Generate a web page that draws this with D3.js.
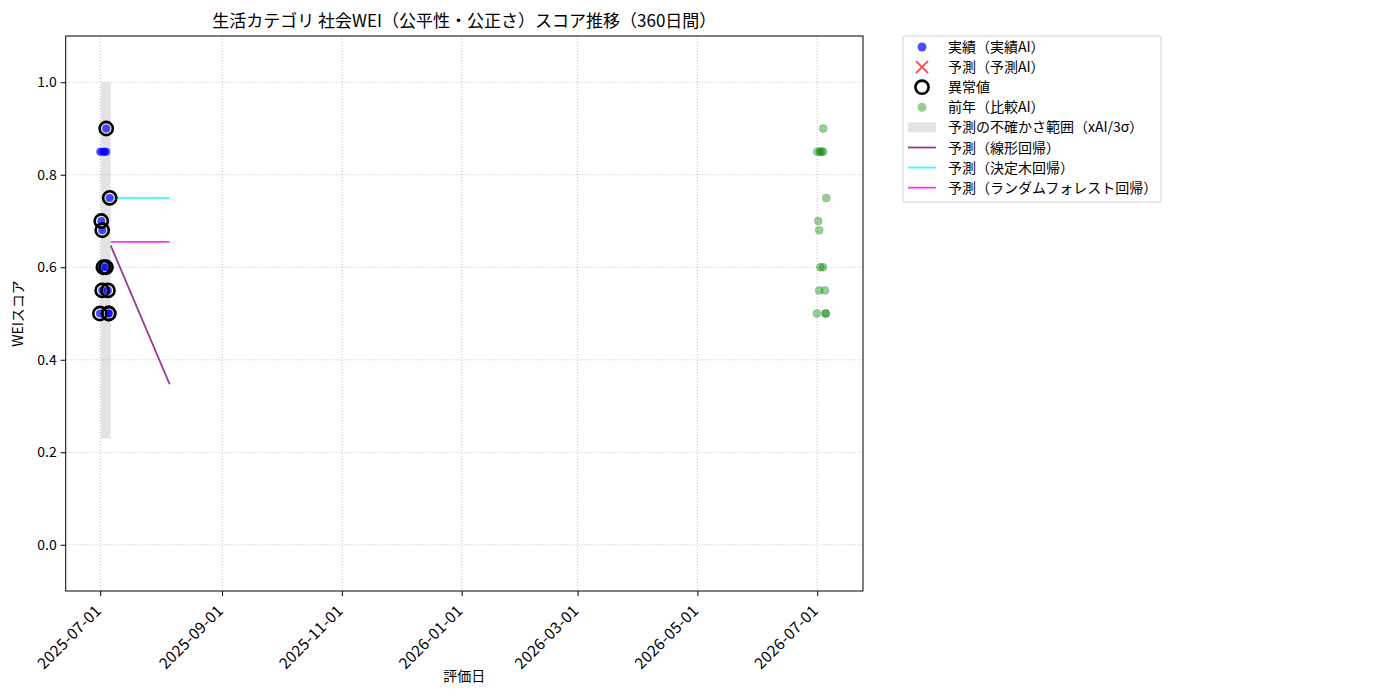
<!DOCTYPE html>
<html>
<head>
<meta charset="utf-8">
<script src="https://cdn.jsdelivr.net/npm/d3@7"></script>
<style>
  body { margin: 0; background: #fff; }
  svg text { font-family: "Noto Sans CJK JP", "DejaVu Sans", sans-serif; fill: #000; }
</style>
</head>
<body>
<div id="chart"></div>
<script>
// data
var actualDates = ["2025-06-30T20:00", "2025-07-01T00:00", "2025-07-01T12:00", "2025-07-02T00:00",
    "2025-07-02T00:00", "2025-07-02T08:00", "2025-07-02T14:00", "2025-07-03T02:00",
    "2025-07-03T22:00", "2025-07-04T01:00", "2025-07-04T00:00", "2025-07-04T22:00",
    "2025-07-05T07:00", "2025-07-05T07:00", "2025-07-05T20:00"];
var actualScores = [0.50, 0.85, 0.70, 0.68, 0.55, 0.85, 0.60, 0.85, 0.60, 0.90, 0.85, 0.55, 0.50, 0.50, 0.75];
var isOutlier = [true, false, true, true, true, false, true, false, true, true, false, true, true, true, true];

var prevDates = ["2026-06-30T20:00", "2026-07-01T00:00", "2026-07-01T12:00", "2026-07-02T00:00",
    "2026-07-02T00:00", "2026-07-02T08:00", "2026-07-02T14:00", "2026-07-03T02:00",
    "2026-07-03T22:00", "2026-07-04T01:00", "2026-07-04T00:00", "2026-07-04T22:00",
    "2026-07-05T07:00", "2026-07-05T07:00", "2026-07-05T14:00"];
var prevScores = [0.50, 0.85, 0.70, 0.68, 0.55, 0.85, 0.60, 0.85, 0.60, 0.90, 0.85, 0.55, 0.50, 0.50, 0.75];

var bandDates = ["2025-07-01T09:00", "2025-07-06T08:00"];
var bandLower = [0.23, 0.23];
var bandUpper = [1.0, 1.0];

var predDates = ["2025-07-06T08:00", "2025-08-05T08:00"];
var predLinear = [0.647, 0.347];
var predTree = [0.75, 0.75];
var predForest = [0.655, 0.655];

var xDomain = ["2025-06-13T10:00", "2026-07-24T07:00"];
var xTicks = ["2025-07-01", "2025-09-01", "2025-11-01", "2026-01-01", "2026-03-01", "2026-05-01", "2026-07-01"];
var yTicks = [0.0, 0.2, 0.4, 0.6, 0.8, 1.0];

var titleText = "生活カテゴリ 社会WEI（公平性・公正さ）スコア推移（360日間）";
var legendLabels = ["実績（実績AI）", "予測（予測AI）", "異常値", "前年（比較AI）",
    "予測の不確かさ範囲（xAI/3σ）", "予測（線形回帰）", "予測（決定木回帰）", "予測（ランダムフォレスト回帰）"];

var parse = d3.isoParse;

var margin = {top: 36, left: 65.7, right: 537, bottom: 109};
var width = 1400 - margin.left - margin.right,
    height = 700 - margin.top - margin.bottom;

var svg = d3.select("#chart").append("svg")
    .attr("width", 1400)
    .attr("height", 700);

var g = svg.append("g")
    .attr("transform", "translate(" + margin.left + "," + margin.top + ")");

var x = d3.scaleTime()
    .domain(xDomain.map(parse))
    .range([0, width]);

var y = d3.scaleLinear()
    .domain([-0.1, 1.1])
    .range([height, 0]);

// grid
g.append("g").selectAll("line.vg")
    .data(xTicks)
    .enter().append("line")
    .attr("x1", function(d){ return x(parse(d)); })
    .attr("x2", function(d){ return x(parse(d)); })
    .attr("y1", 0).attr("y2", height)
    .attr("stroke", "#b0b0b0").attr("stroke-width", 0.8)
    .attr("stroke-dasharray", "1,2");

g.append("g").selectAll("line.hg")
    .data(yTicks)
    .enter().append("line")
    .attr("x1", 0).attr("x2", width)
    .attr("y1", function(d){ return y(d); })
    .attr("y2", function(d){ return y(d); })
    .attr("stroke", "#b0b0b0").attr("stroke-width", 0.8)
    .attr("stroke-dasharray", "1,2");

// uncertainty band
var area = d3.area()
    .x(function(d){ return x(parse(d.date)); })
    .y0(function(d){ return y(d.lo); })
    .y1(function(d){ return y(d.hi); });

g.append("path")
    .datum(bandDates.map(function(d, i){ return {date: d, lo: bandLower[i], hi: bandUpper[i]}; }))
    .attr("d", area)
    .attr("fill", "#808080")
    .attr("fill-opacity", 0.22);

// prediction lines
var line = d3.line()
    .x(function(d){ return x(parse(d.date)); })
    .y(function(d){ return y(d.v); });

var predSeries = [
    {vals: predLinear, color: "purple", op: 0.8},
    {vals: predTree, color: "cyan", op: 0.8},
    {vals: predForest, color: "magenta", op: 0.8}
];

predSeries.forEach(function(s){
    g.append("path")
        .datum(predDates.map(function(d, i){ return {date: d, v: s.vals[i]}; }))
        .attr("d", line)
        .attr("fill", "none")
        .attr("stroke", s.color)
        .attr("stroke-opacity", s.op)
        .attr("stroke-width", 1.8);
});

// actual points
g.append("g").selectAll("circle")
    .data(actualDates)
    .enter().append("circle")
    .attr("cx", function(d){ return x(parse(d)); })
    .attr("cy", function(d, i){ return y(actualScores[i]); })
    .attr("r", 4)
    .attr("fill", "blue")
    .attr("fill-opacity", 0.7);

// outliers
var outIdx = d3.range(actualDates.length).filter(function(i){ return isOutlier[i]; });
g.append("g").selectAll("circle")
    .data(outIdx)
    .enter().append("circle")
    .attr("cx", function(i){ return x(parse(actualDates[i])); })
    .attr("cy", function(i){ return y(actualScores[i]); })
    .attr("r", 6.6)
    .attr("fill", "none")
    .attr("stroke", "#000")
    .attr("stroke-width", 2.6);

// previous year
g.append("g").selectAll("circle")
    .data(prevDates)
    .enter().append("circle")
    .attr("cx", function(d){ return x(parse(d)); })
    .attr("cy", function(d, i){ return y(prevScores[i]); })
    .attr("r", 4)
    .attr("fill", "green")
    .attr("fill-opacity", 0.4)
    .attr("stroke", "green")
    .attr("stroke-opacity", 0.4)
    .attr("stroke-width", 0.5);

// frame
g.append("rect")
    .attr("width", width).attr("height", height)
    .attr("fill", "none").attr("stroke", "#000").attr("stroke-width", 1);

// axes
var xAxis = g.append("g")
    .attr("transform", "translate(0," + height + ")")
    .call(d3.axisBottom(x).tickValues(xTicks.map(parse)).tickFormat(d3.timeFormat("%Y-%m-%d")).tickSize(5).tickPadding(3));
xAxis.select(".domain").remove();
xAxis.selectAll("text")
    .style("font-family", "'Noto Sans CJK JP', sans-serif")
    .style("font-size", "15.5px")
    .style("letter-spacing", "0.3px")
    .attr("text-anchor", "end")
    .attr("dx", "0").attr("dy", "0")
    .attr("transform", "translate(-4,15) rotate(-45)");

var yAxis = g.append("g")
    .call(d3.axisLeft(y).tickValues(yTicks).tickFormat(d3.format(".1f")).tickSize(5).tickPadding(4));
yAxis.select(".domain").remove();
yAxis.selectAll("text")
    .style("font-family", "'Noto Sans CJK JP', sans-serif")
    .style("font-size", "14px");

// labels
svg.append("text")
    .attr("x", margin.left + width / 2).attr("y", 27)
    .attr("text-anchor", "middle")
    .style("font-size", "17px")
    .text(titleText);

svg.append("text")
    .attr("x", margin.left + width / 2).attr("y", 681)
    .attr("text-anchor", "middle")
    .style("font-size", "14px")
    .text("評価日");

svg.append("text")
    .attr("transform", "translate(23," + (margin.top + height / 2) + ") rotate(-90)")
    .attr("text-anchor", "middle")
    .style("font-size", "14px")
    .text("WEIスコア");

// legend
var lg = svg.append("g").attr("transform", "translate(903,36)");
lg.append("rect")
    .attr("width", 258).attr("height", 166).attr("rx", 2)
    .attr("fill", "#fff").attr("stroke", "#d0d0d0");

var rowY = function(i){ return 11 + i * 20.1; };

lg.append("circle").attr("cx", 19).attr("cy", rowY(0)).attr("r", 4.5)
    .attr("fill", "blue").attr("fill-opacity", 0.7);
lg.append("path").attr("d", "M13," + (rowY(1) - 6) + "L25," + (rowY(1) + 6) + "M25," + (rowY(1) - 6) + "L13," + (rowY(1) + 6))
    .attr("stroke", "red").attr("stroke-opacity", 0.7).attr("stroke-width", 2);
lg.append("circle").attr("cx", 19).attr("cy", rowY(2)).attr("r", 6.6)
    .attr("fill", "none").attr("stroke", "#000").attr("stroke-width", 2.6);
lg.append("circle").attr("cx", 19).attr("cy", rowY(3)).attr("r", 4.5)
    .attr("fill", "green").attr("fill-opacity", 0.4);
lg.append("rect").attr("x", 5).attr("y", rowY(4) - 5).attr("width", 28).attr("height", 10)
    .attr("fill", "#808080").attr("fill-opacity", 0.22);
predSeries.forEach(function(s, k){
    lg.append("line").attr("x1", 5).attr("x2", 33)
        .attr("y1", rowY(5 + k)).attr("y2", rowY(5 + k))
        .attr("stroke", s.color).attr("stroke-opacity", s.op).attr("stroke-width", 1.8);
});

lg.selectAll("text.lab")
    .data(legendLabels)
    .enter().append("text")
    .attr("x", 45)
    .attr("y", function(d, i){ return rowY(i) + 5; })
    .style("font-size", "14px")
    .text(function(d){ return d; });
</script>
</body>
</html>
